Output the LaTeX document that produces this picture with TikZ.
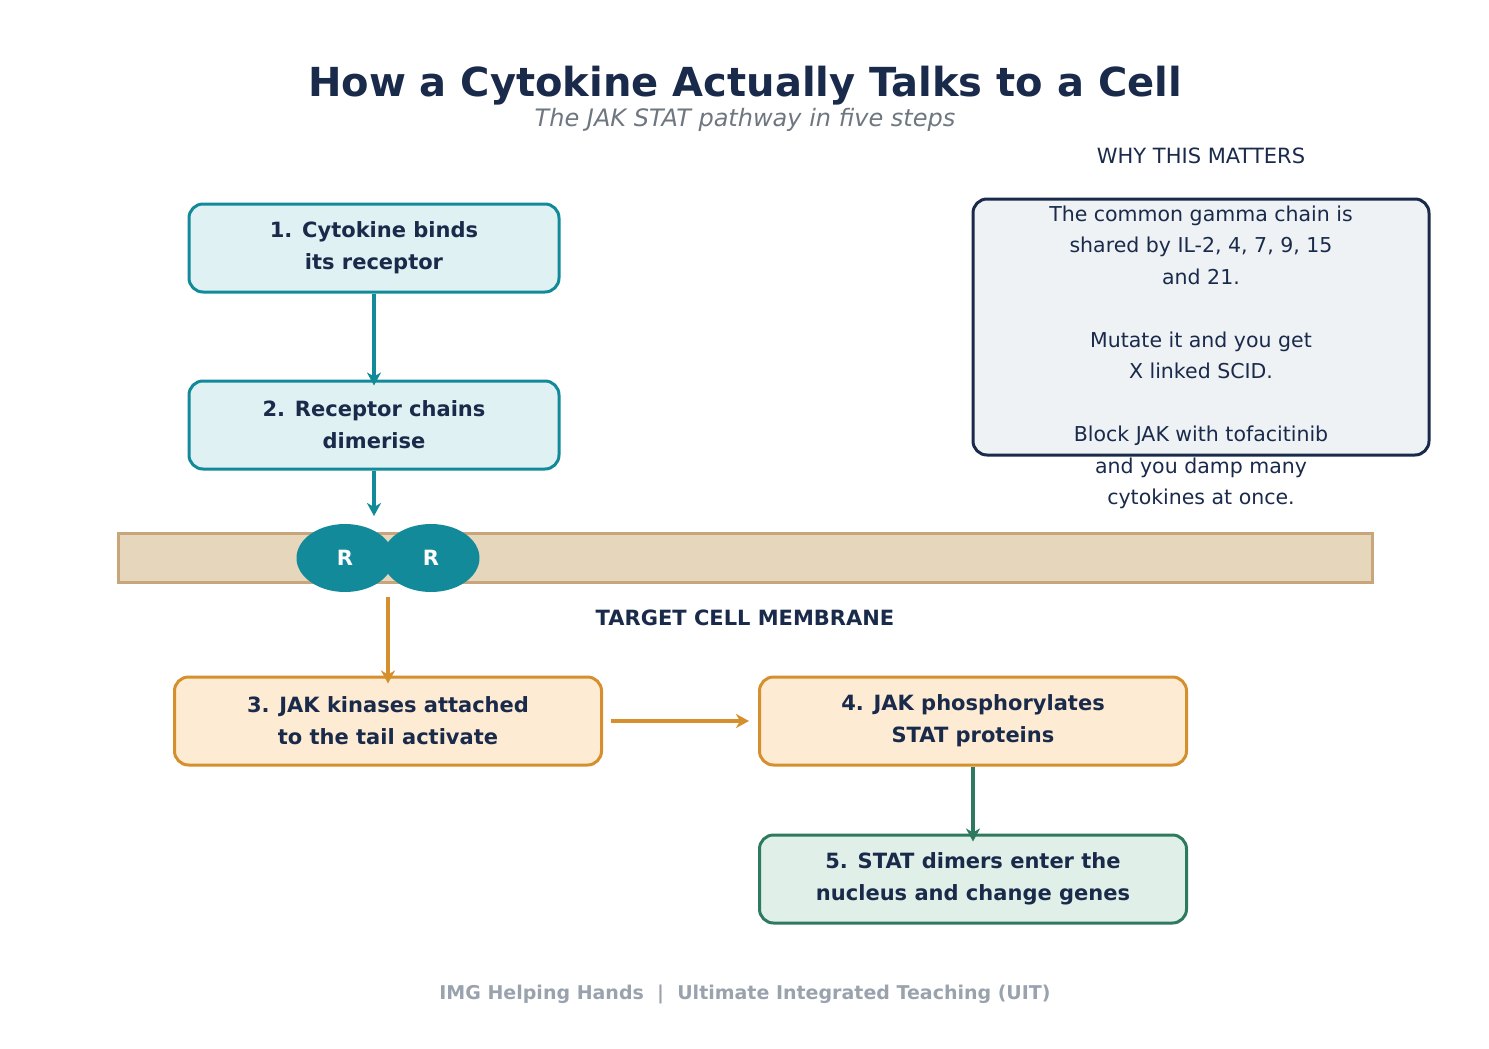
\documentclass[tikz,border=0pt]{standalone}
\usepackage{fontspec}
\setmainfont{DejaVu Sans}
\usetikzlibrary{arrows.meta,shapes.geometric}
\definecolor{navy}{HTML}{1A2A4A}
\definecolor{teal}{HTML}{138A99}
\definecolor{tealfill}{HTML}{DFF1F2}
\definecolor{orng}{HTML}{D68F2D}
\definecolor{orngfill}{HTML}{FDEBD3}
\definecolor{grn}{HTML}{2E7A5F}
\definecolor{grnfill}{HTML}{E0F0E8}
\definecolor{memfill}{HTML}{E6D6BB}
\definecolor{memline}{HTML}{C9A57C}
\definecolor{whyfill}{HTML}{EEF2F5}
\definecolor{sub}{HTML}{6E7680}
\definecolor{foot}{HTML}{9AA3AD}
\tikzset{
 stepbox/.style={rounded corners=14pt,line width=3pt,minimum height=88pt,align=center,
   font=\fontsize{21}{32}\selectfont\bfseries,text=navy},
 tealbox/.style={stepbox,draw=teal,fill=tealfill,minimum width=370pt},
 orngbox/.style={stepbox,draw=orng,fill=orngfill,minimum width=427pt},
 grnbox/.style={stepbox,draw=grn,fill=grnfill,minimum width=427pt},
 arr/.style={line width=4pt,-{Stealth[length=13pt,width=14pt,inset=4pt]}},
 rec/.style={ellipse,fill=teal,minimum width=97pt,minimum height=68pt,text=white,
   font=\fontsize{21}{24}\selectfont\bfseries,inner sep=0pt}
}
\begin{document}
\begin{tikzpicture}[x=1pt,y=-1pt]
\useasboundingbox (0,0) rectangle (1489,1049);
\node[font=\fontsize{40}{44}\selectfont\bfseries,text=navy] (title) at (745,86) {How a Cytokine Actually Talks to a Cell};
\node[font=\fontsize{24}{28}\selectfont\itshape,text=sub] (sub) at (745,120) {The JAK STAT pathway in five steps};
\node[font=\fontsize{21}{24}\selectfont,text=navy] (why) at (1201,156) {WHY THIS MATTERS};
\node[draw=navy,fill=whyfill,line width=3pt,rounded corners=14pt,minimum width=456pt,minimum height=256pt] (whybox) at (1201,327) {};
\node[anchor=north,align=center,font=\fontsize{20.5}{31.5}\selectfont,text=navy] (whytext) at (1201,202)
 {The common gamma chain is\\shared by IL-2, 4, 7, 9, 15\\and 21.\\[31.5pt]Mutate it and you get\\X linked SCID.\\[31.5pt]Block JAK with tofacitinib\\and you damp many\\cytokines at once.};
\node[tealbox] (s1) at (374,248) {1. Cytokine binds\\its receptor};
\node[tealbox] (s2) at (374,425) {2. Receptor chains\\dimerise};
\node[draw=memline,fill=memfill,line width=3pt,minimum width=1254pt,minimum height=49pt,inner sep=0pt] (mem) at (745,558) {};
\node[rec] (r1) at (345,558) {R};
\node[rec] (r2) at (431,558) {R};
\node[font=\fontsize{21}{24}\selectfont\bfseries,text=navy] (memlab) at (745,618) {TARGET CELL MEMBRANE};
\node[orngbox] (s3) at (388,721) {3. JAK kinases attached\\to the tail activate};
\node[orngbox] (s4) at (973,721) {4. JAK phosphorylates\\STAT proteins};
\node[grnbox] (s5) at (973,879) {5. STAT dimers enter the\\nucleus and change genes};
\node[font=\fontsize{19}{22}\selectfont\bfseries,text=foot] (footer) at (745,994) {IMG Helping Hands \ | \ Ultimate Integrated Teaching (UIT)};
\coordinate (m1) at (374,516);
\coordinate (j0) at (388,597);
\draw[arr,teal] (s1.south) -- ([yshift=-6pt]s2.north);
\draw[arr,teal] (s2.south) -- (m1);
\draw[arr,orng] (j0) -- ([yshift=-8pt]s3.north);
\draw[arr,orng] ([xshift=8pt]s3.east) -- ([xshift=-9pt]s4.west);
\draw[arr,grn] (s4.south) -- ([yshift=-8pt]s5.north);
\end{tikzpicture}
\end{document}
